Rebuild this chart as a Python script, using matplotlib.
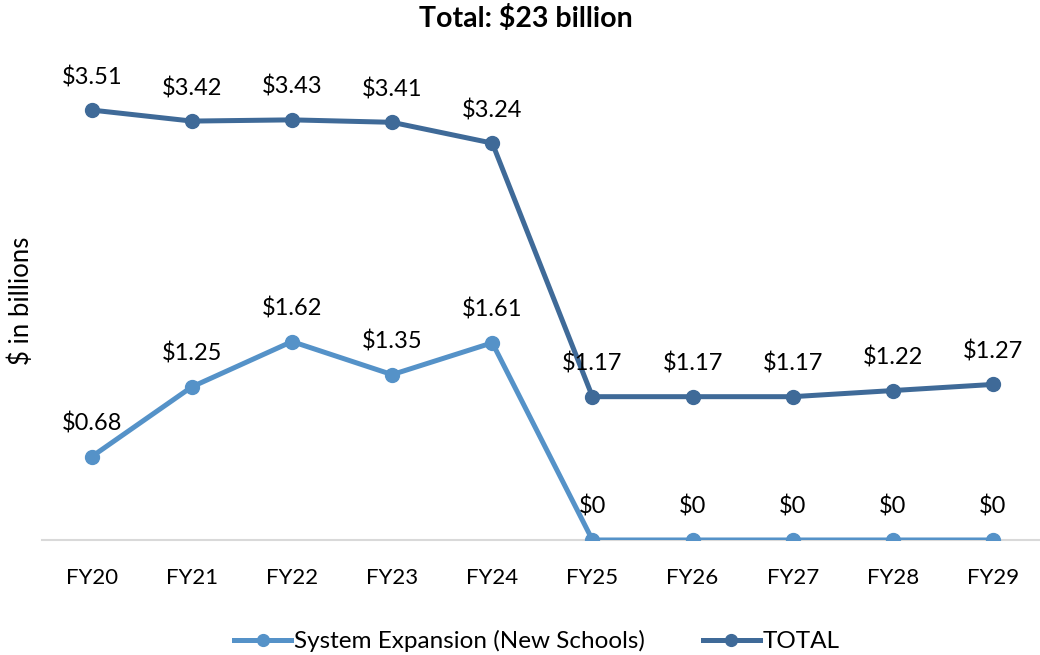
import matplotlib.pyplot as plt
import numpy as np

plt.rcParams['font.family'] = ['Lato', 'DejaVu Sans']

years = ['FY20', 'FY21', 'FY22', 'FY23', 'FY24', 'FY25', 'FY26', 'FY27', 'FY28', 'FY29']
expansion = [0.68, 1.25, 1.62, 1.35, 1.61, 0, 0, 0, 0, 0]
total = [3.51, 3.42, 3.43, 3.41, 3.24, 1.17, 1.17, 1.17, 1.22, 1.27]

LIGHT = '#5592C8'
DARK = '#3F6A98'


def fmt(v):
    return '$0' if v == 0 else f'${v:.2f}'


fig = plt.figure(figsize=(10.4, 6.55), dpi=100)
ax = fig.add_axes([0.040, 0.1756, 0.963, 0.748])

x = np.arange(len(years))
ax.plot(x, expansion, color=LIGHT, lw=3.6, marker='o', ms=10, label='System Expansion (New Schools)', zorder=3)
ax.plot(x, total, color=DARK, lw=3.6, marker='o', ms=10, label='TOTAL', zorder=3)

# value labels sit a fixed distance above each point
for series in (expansion, total):
    for xi, v in zip(x, series):
        ax.annotate(fmt(v), (xi, v), xytext=(0, 33), textcoords='offset pixels',
                    ha='center', va='center', fontsize=17, color='black', zorder=4)

ax.set_xlim(-0.5, len(years) - 0.5)
ax.set_ylim(0, 4)
ax.set_xticks(x)
ax.set_xticklabels(years, fontsize=16)
ax.set_yticks([])
ax.tick_params(axis='x', length=0, pad=20)
for s in ['top', 'right', 'left']:
    ax.spines[s].set_visible(False)
ax.spines['bottom'].set_color('#d9d9d9')
ax.spines['bottom'].set_linewidth(1.5)

fig.text(0.506, 0.971, 'Total: $23 billion', ha='center', va='center', fontsize=20.5, fontweight='bold')
fig.text(0.020, 0.54, '$ in billions', ha='center', va='center', rotation=90, fontsize=18.5)

leg = fig.legend(loc='center', bbox_to_anchor=(0.516, 0.021), ncol=2, frameon=False, fontsize=17.5,
                 handlelength=2.35, columnspacing=2.4, handletextpad=0.1)
for h in leg.legend_handles:
    h.set_markersize(8.5)

fig.savefig('out.png', dpi=100)
